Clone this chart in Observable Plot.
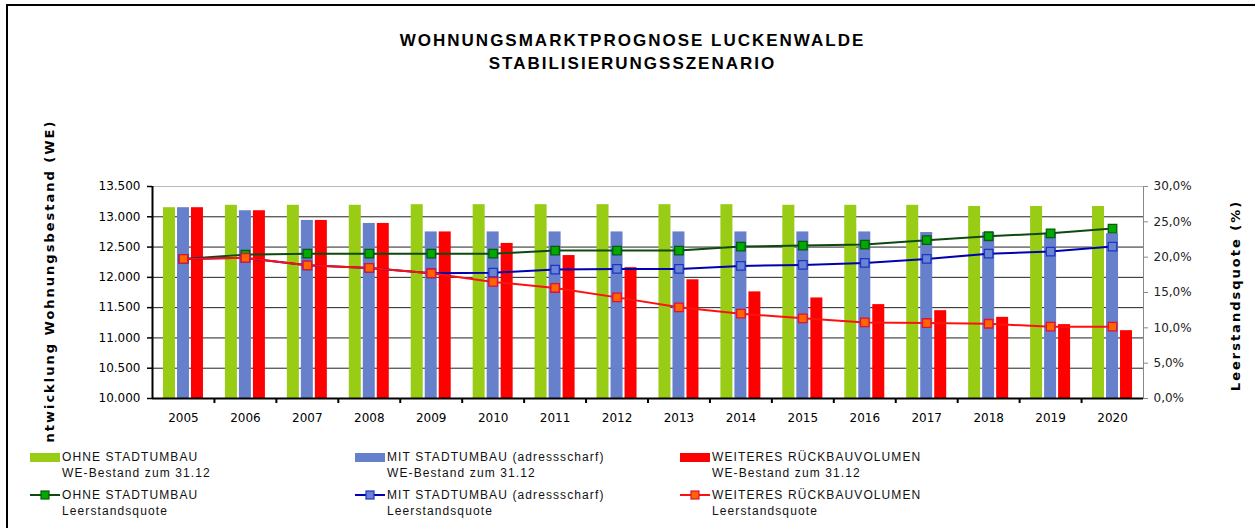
<!DOCTYPE html>
<html><head><meta charset="utf-8">
<script src="https://cdn.jsdelivr.net/npm/d3@7"></script>
<script src="https://cdn.jsdelivr.net/npm/@observablehq/plot@0.6"></script>
<style>
body{margin:0;background:#fff;}
#wrap{position:relative;width:1255px;height:528px;overflow:hidden;background:#fff;}
#frame{position:absolute;left:6px;top:4px;width:1300px;height:600px;border:2px solid #000;box-sizing:border-box;}
#title{position:absolute;left:10px;width:1245px;top:29px;text-align:center;font:bold 17px/23px "Liberation Sans",Arial,sans-serif;letter-spacing:2px;color:#000;}
#chart{position:absolute;left:0;top:0;}
.leg{position:absolute;font:12px/16px "Liberation Sans",Arial,sans-serif;letter-spacing:1.1px;color:#111;white-space:nowrap;}
.sw{position:absolute;}
</style></head>
<body>
<div id="wrap">
  <div id="frame"></div>
  <div id="title">WOHNUNGSMARKTPROGNOSE LUCKENWALDE<br>STABILISIERUNGSSZENARIO</div>
  <div id="chart"></div>
  <div id="legend"></div>
</div>
<script>
// ---- data ----
const years = ["2005","2006","2007","2008","2009","2010","2011","2012","2013","2014","2015","2016","2017","2018","2019","2020"];
const ohneBestand  = [13150,13190,13190,13190,13200,13200,13200,13200,13200,13200,13190,13190,13190,13170,13170,13170];
const mitBestand   = [13150,13100,12940,12890,12750,12750,12750,12750,12750,12750,12750,12750,12740,12740,12730,12720];
const rueckBestand = [13150,13100,12940,12890,12750,12560,12360,12160,11960,11760,11660,11550,11450,11340,11220,11120];
const ohneQuote  = [19.75,20.36,20.5,20.5,20.5,20.5,20.93,20.93,20.93,21.5,21.64,21.78,22.4,22.96,23.38,24.05];
const mitQuote   = [19.75,19.9,18.85,18.48,17.72,17.8,18.24,18.33,18.33,18.76,18.9,19.18,19.75,20.5,20.79,21.5];
const rueckQuote = [19.75,19.9,18.85,18.48,17.72,16.5,15.64,14.31,12.9,12.0,11.34,10.77,10.68,10.58,10.16,10.16];
const leftTicks = [10000,10500,11000,11500,12000,12500,13000,13500];
const pctTicks = [0,5,10,15,20,25,30];
const seriesNames = ["OHNE STADTUMBAU","MIT STADTUMBAU (adressscharf)","WEITERES RÜCKBAUVOLUMEN"];
const barSub = "WE-Bestand zum 31.12";
const lineSub = "Leerstandsquote";
const leftTitle = "Entwicklung Wohnungsbestand (WE)";
const rightTitle = "Leerstandsquote (%)";

// ---- styles ----
const barColors = ["#99cc15","#6680cc","#ff0000"];
const lineColors = ["#0e4a0e","#0000b0","#ff1010"];
const markFill = ["#00aa00","#6a84d4","#ff6600"];
const markStroke = ["#0a5a0a","#1f35c0","#e0103a"];

const W=1255,H=444, ml=152, mr=112, mt=186, mb=46;
const bw=(W-ml-mr)/years.length;
const yMin=10000,yMax=13500,pMax=30;
const toY = p => yMin + p/pMax*(yMax-yMin);
const pxToData = px => px*(yMax-yMin)/(H-mt-mb);
const fmtDE = v => d3.format(",")(v).replace(/,/g,".");
const fmtPct = v => ((v-yMin)/(yMax-yMin)*pMax).toFixed(1).replace(".",",")+"%";

const barW=12, barStep=14;
const barSets=[ohneBestand,mitBestand,rueckBestand];
const quoteSets=[ohneQuote,mitQuote,rueckQuote];

const marks=[];
// gridlines
marks.push(Plot.ruleY(leftTicks.slice(1,-1),{stroke:"#222",strokeWidth:1}));
marks.push(Plot.ruleY([yMax],{stroke:"#bbb",strokeWidth:1}));
// bars
barSets.forEach((vals,k)=>{
  marks.push(Plot.barY(years,{x:d=>d,y1:yMin,y2:(d,i)=>vals[i],fill:barColors[k],
    insetLeft:(bw-barW)/2,insetRight:(bw-barW)/2,dx:(k-1)*barStep}));
});
// axes lines
marks.push(Plot.ruleY([yMin],{stroke:"#000",strokeWidth:2}));
marks.push(Plot.ruleX([years[0]],{dx:-bw/2,y1:yMin,y2:yMax,stroke:"#000",strokeWidth:2}));
marks.push(Plot.ruleX([years[years.length-1]],{dx:bw/2,y1:yMin-pxToData(1),y2:yMax,stroke:"#888",strokeWidth:1}));
// x tick marks at band boundaries
marks.push(Plot.ruleX(years.slice(1),{x:d=>d,dx:-bw/2,y1:yMin,y2:yMin-pxToData(5),stroke:"#000",strokeWidth:2}));
marks.push(Plot.axisY({anchor:"left",ticks:leftTicks,tickFormat:fmtDE,tickSize:5,tickPadding:7,fontSize:12,label:null,stroke:"#000",strokeWidth:1.5,fill:"#000"}));
marks.push(Plot.axisY({anchor:"right",ticks:pctTicks.map(toY),tickFormat:fmtPct,tickSize:4,tickPadding:6,fontSize:12,label:null,stroke:"#888",fill:"#222"}));
marks.push(Plot.axisX({anchor:"bottom",tickSize:0,tickPadding:15,fontSize:12,label:null,fill:"#000"}));
// lines + markers
quoteSets.forEach((vals,k)=>{
  marks.push(Plot.line(years,{x:d=>d,y:(d,i)=>toY(vals[i]),stroke:lineColors[k],strokeWidth:2}));
  marks.push(Plot.dot(years,{x:d=>d,y:(d,i)=>toY(vals[i]),symbol:"square",r:4.8,fill:markFill[k],stroke:markStroke[k],strokeWidth:1.3}));
});
// axis titles
marks.push(Plot.text([leftTitle],{frameAnchor:"left",textAnchor:"middle",lineAnchor:"middle",dx:49-ml,dy:-6,rotate:-90,fontWeight:"bold",fontSize:13,fill:"#000"}));
marks.push(Plot.text([rightTitle],{frameAnchor:"right",textAnchor:"middle",lineAnchor:"middle",dx:92,dy:3,rotate:-90,fontWeight:"bold",fontSize:13,fill:"#000"}));

const svg = Plot.plot({
  width:W,height:H,marginLeft:ml,marginRight:mr,marginTop:mt,marginBottom:mb,
  x:{domain:years,type:"band",padding:0,round:false,axis:null},
  y:{domain:[yMin,yMax],axis:null},
  style:{fontFamily:"DejaVu Sans, sans-serif",fontSize:"12px",background:"none",overflow:"hidden",color:"#000"},
  marks
});
svg.querySelectorAll("text").forEach(t=>{
  if(t.textContent===leftTitle||t.textContent===rightTitle) t.style.letterSpacing="2px";
});
document.getElementById("chart").appendChild(svg);

// ---- legend ----
const leg=document.getElementById("legend");
const colX=[30,355,680];
seriesNames.forEach((name,k)=>{
  const x=colX[k];
  const s=document.createElement("div");
  s.className="sw";
  Object.assign(s.style,{left:x+"px",top:"453px",width:"30px",height:"9px",background:barColors[k]});
  leg.appendChild(s);
  const t1=document.createElement("div");
  t1.className="leg";
  Object.assign(t1.style,{left:(x+32)+"px",top:"449px"});
  t1.innerHTML=name+"<br>"+barSub;
  leg.appendChild(t1);
  const ns="http://www.w3.org/2000/svg";
  const ls=document.createElementNS(ns,"svg");
  ls.setAttribute("width","32");ls.setAttribute("height","12");
  Object.assign(ls.style,{position:"absolute",left:x+"px",top:"489px"});
  const ln=document.createElementNS(ns,"line");
  ln.setAttribute("x1","0");ln.setAttribute("x2","30");ln.setAttribute("y1","6");ln.setAttribute("y2","6");
  ln.setAttribute("stroke",lineColors[k]);ln.setAttribute("stroke-width","2");
  ls.appendChild(ln);
  const rc=document.createElementNS(ns,"rect");
  rc.setAttribute("x","11");rc.setAttribute("y","2");rc.setAttribute("width","8");rc.setAttribute("height","8");
  rc.setAttribute("fill",markFill[k]);rc.setAttribute("stroke",markStroke[k]);rc.setAttribute("stroke-width","1.2");
  ls.appendChild(rc);
  leg.appendChild(ls);
  const t2=document.createElement("div");
  t2.className="leg";
  Object.assign(t2.style,{left:(x+32)+"px",top:"487px"});
  t2.innerHTML=name+"<br>"+lineSub;
  leg.appendChild(t2);
});
</script>
</body></html>
